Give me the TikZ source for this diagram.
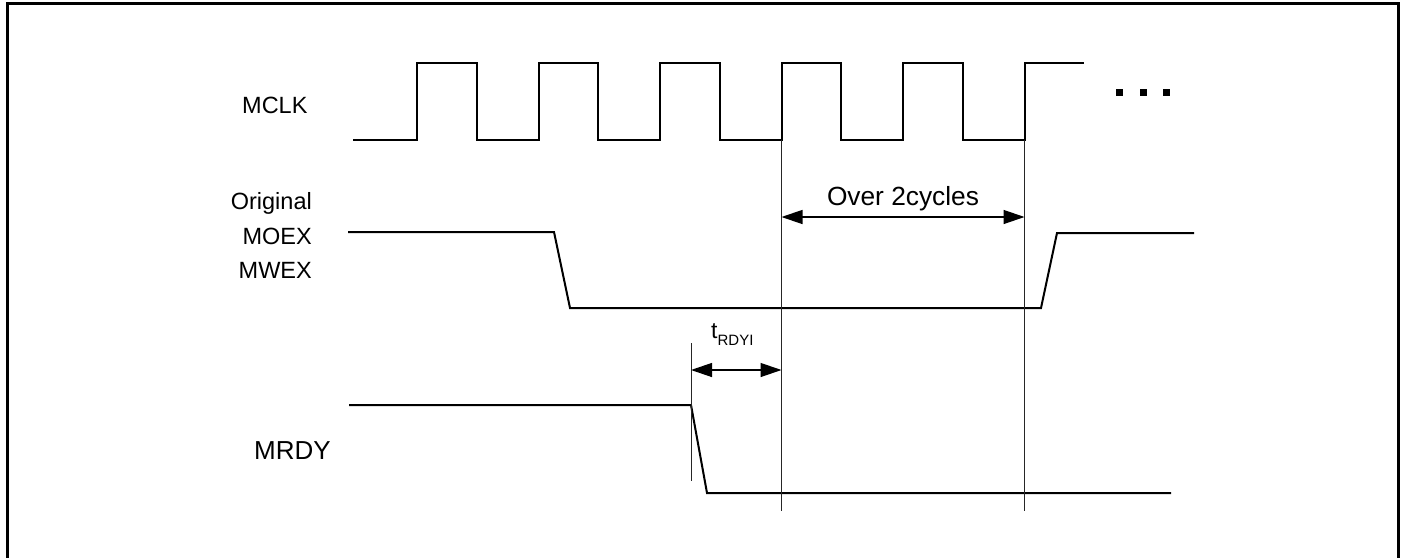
\documentclass[tikz,border=0pt]{standalone}
\usepackage{fontspec}
\setmainfont{Liberation Sans}
\usetikzlibrary{arrows.meta}
\tikzset{
  sig/.style={line width=2pt, line join=miter},
  refl/.style={line width=1pt, black!85},
  dim/.style={line width=1.3pt, {Triangle[length=21pt,width=14pt]}-{Triangle[length=21pt,width=14pt]}},
  lbl/.style={inner sep=0pt, font=\fontsize{23.5}{28}\selectfont},
}
\begin{document}
\begin{tikzpicture}[x=1pt,y=-1pt]
\useasboundingbox (0,0) rectangle (1405,557);
% frame (open at bottom)
\draw[line width=3pt] (7.5,560) -- (7.5,3.5) -- (1398.5,3.5) -- (1398.5,560);
% labels
\node[lbl, anchor=base west] (mclk) at (242,113) {MCLK};
\node[lbl, anchor=base east] (orig) at (312,209) {Original};
\node[lbl, anchor=base east] (moex) at (312,244) {MOEX};
\node[lbl, anchor=base east] (mwex) at (312,278) {MWEX};
\node[inner sep=0pt, font=\fontsize{26}{30}\selectfont, anchor=base west] (mrdy) at (254,459) {MRDY};
% MCLK
\draw[sig] (353,140) -- (417,140) -- (417,63) -- (476.5,63) -- (476.5,140)
  -- (538.5,140) -- (538.5,63) -- (598,63) -- (598,140)
  -- (660,140) -- (660,63) -- (719.5,63) -- (719.5,140)
  -- (781.5,140) -- (781.5,63) -- (841,63) -- (841,140)
  -- (903,140) -- (903,63) -- (962.5,63) -- (962.5,140)
  -- (1024.5,140) -- (1024.5,63) -- (1084,63);
% dots
\foreach \xx/\nm in {1119/d1,1143/d2,1166/d3}
  \fill (\xx-3.5,88.5) rectangle (\xx+3.5,95.5);
% MOEX/MWEX
\draw[sig] (348,232) -- (554,232) -- (570,308) -- (1041,308) -- (1057,233) -- (1194,233);
% MRDY
\draw[sig] (349,405) -- (691,405) -- (707,493) -- (1171,493);
% reference lines
\coordinate (a1) at (781.5,140);
\coordinate (a2) at (781.5,511);
\coordinate (b1) at (1024.5,140);
\coordinate (b2) at (1024.5,511);
\coordinate (c1) at (691,343);
\coordinate (c2) at (691,481);
\draw[refl] (a1) -- (a2);
\draw[refl] (b1) -- (b2);
\draw[refl] (c1) -- (c2);
% dimension arrows
\coordinate (o1) at (781.5,217);
\coordinate (o2) at (1024.5,217);
\draw[dim] (o1) -- (o2);
\node[inner sep=0pt, font=\fontsize{26.3}{30}\selectfont, anchor=base] (over) at (903,205) {Over 2cycles};
\coordinate (t1) at (691,370);
\coordinate (t2) at (781.5,370);
\draw[dim] (t1) -- (t2);
\node[inner sep=0pt, font=\fontsize{23}{28}\selectfont, anchor=base west] (tr) at (711,338) {t\raisebox{-7pt}{\fontsize{15}{18}\selectfont RDYI}};
\end{tikzpicture}
\end{document}
